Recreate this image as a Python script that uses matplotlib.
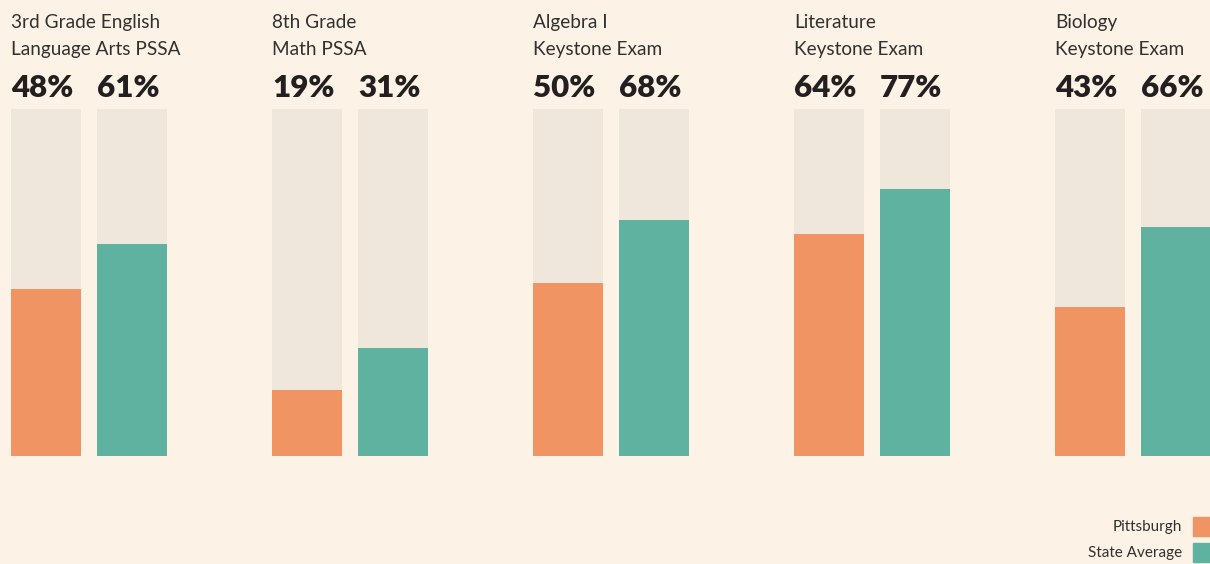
import matplotlib
matplotlib.use("Agg")
import matplotlib.pyplot as plt
from matplotlib.patches import Rectangle

titles_line1 = ["3rd Grade English", "8th Grade", "Algebra I", "Literature", "Biology"]
titles_line2 = ["Language Arts PSSA", "Math PSSA", "Keystone Exam", "Keystone Exam", "Keystone Exam"]
pittsburgh = [48, 19, 50, 64, 43]
state_avg = [61, 31, 68, 77, 66]
series_names = ["Pittsburgh", "State Average"]

BG = "#fdf2e6"
TRACK = "#efe6dc"
ORANGE = "#ef9462"
TEAL = "#5fb2a0"
TXT = "#231f20"
TXT2 = "#333031"

W, H = 1210, 564
fig = plt.figure(figsize=(W / 100, H / 100), dpi=100)
fig.patch.set_facecolor(BG)

bar_top, bar_bot = 109, 456
ax = fig.add_axes([0, (H - bar_bot) / H, 1, (bar_bot - bar_top) / H])
ax.set_xlim(0, W)
ax.set_ylim(0, 100)
ax.axis("off")
ax.patch.set_alpha(0)

group_step = 261
x0 = 11
bw = 70
pair_step = 86

for i in range(len(pittsburgh)):
    lefts = [x0 + i * group_step, x0 + i * group_step + pair_step]
    ax.bar(lefts, [100, 100], width=bw, align="edge", color=TRACK, zorder=1)
    ax.bar(lefts[0], pittsburgh[i], width=bw, align="edge", color=ORANGE, zorder=2)
    ax.bar(lefts[1], state_avg[i], width=bw, align="edge", color=TEAL, zorder=2)

tx = fig.add_axes([0, 0, 1, 1])
tx.set_xlim(0, W)
tx.set_ylim(H, 0)
tx.axis("off")
tx.patch.set_alpha(0)

title_font = dict(family=["Lato", "DejaVu Sans"], fontsize=13.7, color=TXT2)
pct_font = dict(family=["Lato", "DejaVu Sans"], fontsize=22.5, color=TXT, fontweight="heavy")

for i in range(len(pittsburgh)):
    gx = x0 + i * group_step
    tx.text(gx, 22.5, titles_line1[i], ha="left", va="center", **title_font)
    tx.text(gx, 49.5, titles_line2[i], ha="left", va="center", **title_font)
    tx.text(gx, 88, f"{pittsburgh[i]}%", ha="left", va="center", **pct_font)
    tx.text(gx + pair_step, 88, f"{state_avg[i]}%", ha="left", va="center", **pct_font)

leg_font = dict(family=["Lato", "DejaVu Sans"], fontsize=11, color=TXT2)
for k, (name, col) in enumerate(zip(series_names, [ORANGE, TEAL])):
    yc = 526 + k * 26
    tx.add_patch(Rectangle((1193, yc - 9.5), 18, 19, color=col, clip_on=False))
    tx.text(1182, yc + 1.5, name, ha="right", va="center", **leg_font)

fig.savefig("out.png", dpi=100, facecolor=BG)
